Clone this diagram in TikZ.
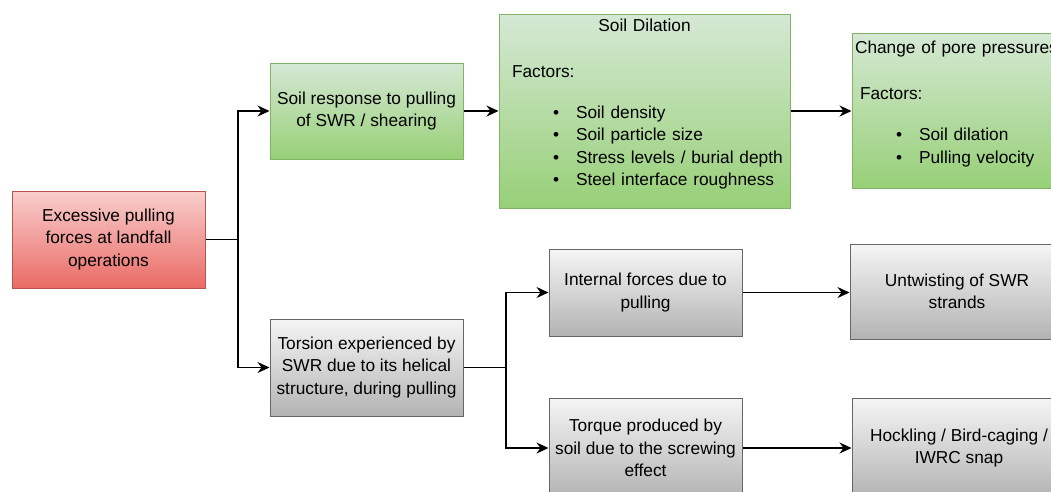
\documentclass[tikz,border=0pt]{standalone}
\usepackage{fontspec}
\setmainfont{Liberation Sans}
\usetikzlibrary{arrows.meta, positioning, calc}
\definecolor{redTop}{HTML}{F8CECC}
\definecolor{redBot}{HTML}{EA6B66}
\definecolor{redLine}{HTML}{B85450}
\definecolor{greenTop}{HTML}{D5E8D4}
\definecolor{greenBot}{HTML}{97D077}
\definecolor{greenLine}{HTML}{82B366}
\definecolor{greyTop}{HTML}{F5F5F5}
\definecolor{greyBot}{HTML}{B3B3B3}
\definecolor{greyLine}{HTML}{666666}
\newcommand{\fitem}[1]{\hspace*{41pt}\makebox[23pt][l]{\textbullet}\mbox{#1}}
\tikzset{
  cause/.style = {rectangle, draw=redLine, line width=1pt,
    top color=redTop, bottom color=redBot,
    minimum width=193pt, minimum height=97pt, align=center, inner sep=2pt},
  soilBox/.style = {rectangle, draw=greenLine, line width=1pt,
    top color=greenTop, bottom color=greenBot,
    minimum width=193pt, minimum height=96pt, align=center, inner sep=2pt},
  factBox/.style = {rectangle, draw=greenLine, line width=1pt,
    top color=greenTop, bottom color=greenBot,
    align=left, inner ysep=0pt},
  wireBox/.style = {rectangle, draw=greyLine, line width=1pt,
    top color=greyTop, bottom color=greyBot,
    minimum width=193pt, minimum height=97pt, align=center, inner sep=2pt},
  ok/.style = {-{Stealth[length=12pt, width=11pt, inset=4pt]}, line width=1.6pt, draw=black},
  plain/.style = {line width=1.6pt, draw=black},
}

\begin{document}
\begin{tikzpicture}[x=1pt, y=-1pt, font=\fontsize{17.3}{22.5}\selectfont]
\useasboundingbox (0,0) rectangle (1051,491);
\clip (0,0) rectangle (1051,491);

\node[cause] (exc) at (108.5,239.5) {Excessive pulling\\forces at landfall\\operations};
\node[soilBox] (soil) at (366.5,111) {Soil response to pulling\\of SWR / shearing};
\node[wireBox] (tors) at (366.5,367.5) {Torsion experienced by\\SWR due to its helical\\structure, during pulling};

\node[factBox, text width=265pt, inner xsep=13pt, minimum height=194pt] (dil) at (644.5,111) {%
  \makebox[265pt]{Soil Dilation}\\[23.5pt]
  Factors:\\[18.5pt]
  \fitem{Soil density}\\
  \fitem{Soil particle size}\\
  \fitem{Stress levels / burial depth}\\
  \fitem{Steel interface roughness}\\[-5pt]\mbox{}};
\node[factBox, text width=208pt, inner xsep=3pt, minimum height=155pt] (pore) at (959,110.5) {%
  \mbox{Change of pore pressures}\\[23.5pt]
  \hspace*{5pt}Factors:\\[18.5pt]
  \fitem{Soil dilation}\\
  \fitem{Pulling velocity}\\[-6pt]\mbox{}};

\node[wireBox, minimum height=87pt] (int) at (645.5,292.5) {Internal forces due to\\pulling};
\node[wireBox, minimum width=214pt, minimum height=95pt] (untw) at (957,291.5) {Untwisting of SWR\\strands};
\node[wireBox, minimum height=100pt] (torq) at (645.5,448) {Torque produced by\\soil due to the screwing\\effect};
\node[wireBox, minimum width=214pt, minimum height=100pt] (hock) at (959,448) {Hockling / Bird-caging /\\IWRC snap};

\coordinate (j1) at (238,239.5);
\coordinate (j2) at (506,367.5);

\draw[plain] (exc) -- (j1);
\draw[ok] (j1) |- (soil);
\draw[ok] (j1) |- (tors);
\draw[ok] (soil) -- (dil);
\draw[ok] (dil) -- (dil -| pore.west);
\draw[plain] (tors) -- (j2);
\draw[ok] (j2) |- (int);
\draw[ok] (j2) |- (torq);
\draw[ok] (int) -- (int -| untw.west);
\draw[ok] (torq) -- (hock);
\end{tikzpicture}
\end{document}
